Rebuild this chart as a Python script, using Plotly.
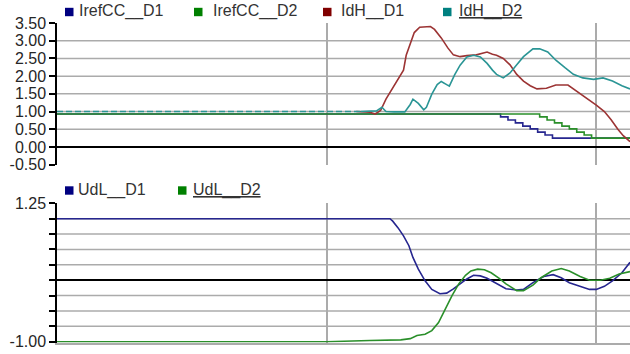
import plotly.graph_objects as go

# ---- series data (time in arbitrary units, values in p.u.) ----
t_iref1 = [0, 3.29, 3.345, 3.40, 3.455, 3.51, 3.565, 3.62, 3.675, 4.25]
v_iref1 = [0.93, 0.85, 0.76, 0.68, 0.59, 0.51, 0.42, 0.34, 0.25, 0.25]

t_iref2 = [0, 3.58, 3.635, 3.69, 3.745, 3.80, 3.855, 3.91, 3.965, 4.25]
v_iref2 = [0.93, 0.85, 0.76, 0.68, 0.59, 0.51, 0.42, 0.34, 0.25, 0.25]

t_idh1 = [2.22, 2.32, 2.36, 2.40, 2.44, 2.49, 2.54, 2.57, 2.59, 2.62, 2.65, 2.69,
          2.77, 2.80, 2.85, 2.90, 2.94, 2.99, 3.04, 3.11, 3.19, 3.23, 3.26, 3.31, 3.36,
          3.41, 3.46, 3.51, 3.56, 3.63, 3.70, 3.79, 3.85, 3.93, 4.00, 4.06, 4.11, 4.16,
          4.20, 4.25]
v_idh1 = [1.0, 0.98, 0.93, 1.03, 1.35, 1.67, 2.0, 2.17, 2.59, 2.9, 3.23, 3.38,
          3.40, 3.32, 3.08, 2.79, 2.6, 2.55, 2.58, 2.6, 2.68, 2.62, 2.59, 2.5, 2.32,
          2.05, 1.86, 1.73, 1.64, 1.66, 1.75, 1.75, 1.59, 1.36, 1.18, 1.0, 0.77, 0.5,
          0.32, 0.15]

t_idh2 = [0, 2.25, 2.37, 2.41, 2.44, 2.50, 2.58, 2.62, 2.64, 2.68, 2.72, 2.74, 2.78,
          2.82, 2.85, 2.89, 2.91, 2.95, 2.99, 3.04, 3.09, 3.14, 3.19, 3.23, 3.26, 3.31,
          3.36, 3.41, 3.46, 3.53, 3.58, 3.64, 3.70, 3.77, 3.83, 3.90, 3.98, 4.05, 4.12,
          4.19, 4.25]
v_idh2 = [1.0, 1.0, 1.02, 1.12, 1.0, 0.99, 0.99, 1.2, 1.35, 1.23, 1.05, 1.12, 1.49,
          1.76, 1.85, 1.76, 1.72, 2.04, 2.31, 2.54, 2.59, 2.54, 2.36, 2.17, 2.05, 1.95,
          2.09, 2.32, 2.55, 2.77, 2.77, 2.68, 2.45, 2.23, 2.05, 1.95, 1.91, 1.95, 1.86,
          1.73, 1.64]

t_udl1 = [0, 2.47, 2.49, 2.53, 2.57, 2.61, 2.64, 2.68, 2.73, 2.78, 2.84, 2.89, 2.94,
          2.99, 3.04, 3.09, 3.14, 3.19, 3.26, 3.33, 3.41, 3.46, 3.53, 3.61, 3.68, 3.74,
          3.80, 3.88, 3.95, 4.00, 4.06, 4.12, 4.19, 4.25]
v_udl1 = [1.0, 1.0, 0.96, 0.85, 0.72, 0.56, 0.37, 0.18, -0.01, -0.15, -0.22, -0.21,
          -0.14, -0.06, 0.02, 0.08, 0.07, 0.03, -0.06, -0.14, -0.16, -0.15, -0.04, 0.06,
          0.09, 0.04, -0.04, -0.10, -0.15, -0.15, -0.10, -0.01, 0.12, 0.29]

t_udl2 = [0, 2.0, 2.32, 2.55, 2.62, 2.67, 2.73, 2.78, 2.83, 2.88, 2.93, 2.98, 3.03,
          3.07, 3.12, 3.17, 3.22, 3.28, 3.33, 3.41, 3.46, 3.53, 3.59, 3.67, 3.74, 3.80,
          3.88, 3.95, 4.03, 4.10, 4.17, 4.25]
v_udl2 = [-1.0, -1.0, -0.98, -0.97, -0.95, -0.9, -0.88, -0.82, -0.69, -0.47, -0.25,
          -0.06, 0.08, 0.15, 0.18, 0.17, 0.12, 0.03, -0.06, -0.17, -0.17, -0.08, 0.04,
          0.15, 0.19, 0.15, 0.06, 0.0, 0.0, 0.03, 0.1, 0.14]

top_names = ["IrefCC__D1", "IrefCC__D2", "IdH__D1", "IdH__D2"]
bottom_names = ["UdL__D1", "UdL__D2"]

top_ticks = [-0.5, 0.0, 0.5, 1.0, 1.5, 2.0, 2.5, 3.0, 3.5]
top_ticklabels = ["-0.50", "0.00", "0.50", "1.00", "1.50", "2.00", "2.50", "3.00", "3.50"]
top_grid = [0.5, 1.0, 1.5, 2.0, 2.5, 3.0]

bottom_ticks = [-1.0, -0.75, -0.5, -0.25, 0.0, 0.25, 0.5, 0.75, 1.0, 1.25]
bottom_ticklabels = ["-1.00", "", "", "", "", "", "", "", "", "1.25"]
bottom_grid = [-0.75, -0.5, -0.25, 0.25, 0.5, 0.75, 1.0]

time_grid = [2, 4]

# ---- styling ----
W, H = 630, 354
LEFT = 57
FONT = "Liberation Sans, Arial, sans-serif"
NAVY, GREEN, MAROON, TEAL = "#000080", "#008000", "#800000", "#008080"
LINE_NAVY, LINE_GREEN, LINE_RED, LINE_TEAL = "#26268f", "#2a8f2a", "#9c3434", "#2a9595"
GRID = "#ababab"
LW = 1.6

# lower panel: small padding below -1.00 so the bottom trace is not clipped
Y2_LO, Y2_HI = -1.015, 1.25
Y2_TOP_PX, Y2_M1_PX = 203.3, 341.7
y2_scale = (Y2_M1_PX - Y2_TOP_PX) / (Y2_HI - (-1.0))
Y2_BOTTOM_PX = Y2_M1_PX + (-1.0 - Y2_LO) * y2_scale


def px(x):
    return (x - LEFT) / (W - LEFT)


def py(y):
    return 1 - y / H


fig = go.Figure()

# upper panel: current references and DC currents
fig.add_trace(go.Scatter(x=t_iref1, y=v_iref1, mode="lines", line=dict(color=LINE_NAVY, width=LW, shape="hv"),
                         xaxis="x", yaxis="y", showlegend=False))
fig.add_trace(go.Scatter(x=t_iref2, y=v_iref2, mode="lines", line=dict(color=LINE_GREEN, width=LW, shape="hv"),
                         xaxis="x", yaxis="y", showlegend=False))
fig.add_trace(go.Scatter(x=t_idh1, y=v_idh1, mode="lines", line=dict(color=LINE_RED, width=LW),
                         xaxis="x", yaxis="y", showlegend=False))
# steady-state ripple segment of IdH__D2 drawn dashed, the transient solid
n_ss = 2
fig.add_trace(go.Scatter(x=t_idh2[:n_ss], y=v_idh2[:n_ss], mode="lines",
                         line=dict(color=LINE_TEAL, width=LW, dash="6px,3px"),
                         xaxis="x", yaxis="y", showlegend=False))
fig.add_trace(go.Scatter(x=t_idh2[n_ss - 1:], y=v_idh2[n_ss - 1:], mode="lines",
                         line=dict(color=LINE_TEAL, width=LW),
                         xaxis="x", yaxis="y", showlegend=False))

# lower panel: DC voltages
fig.add_trace(go.Scatter(x=t_udl1, y=v_udl1, mode="lines", line=dict(color=LINE_NAVY, width=LW),
                         xaxis="x2", yaxis="y2", showlegend=False))
fig.add_trace(go.Scatter(x=t_udl2, y=v_udl2, mode="lines", line=dict(color=LINE_GREEN, width=LW),
                         xaxis="x2", yaxis="y2", showlegend=False))

xaxis_common = dict(range=[0, 4.25], tickmode="array", tickvals=time_grid, showticklabels=False,
                    showgrid=True, gridcolor=GRID, gridwidth=2, zeroline=False, showline=False,
                    ticks="", domain=[0, 1], automargin=False)
yaxis_common = dict(showline=True, linecolor="black", linewidth=1.5, ticks="outside", ticklen=6,
                    tickwidth=1.5, tickcolor="black", showgrid=False, zeroline=True,
                    zerolinecolor="black", zerolinewidth=1.5, automargin=False,
                    tickfont=dict(family=FONT, size=16, color="#262626"), tickmode="array")

fig.update_layout(
    width=W, height=H,
    margin=dict(l=LEFT, r=0, t=0, b=0),
    paper_bgcolor="white", plot_bgcolor="white",
    xaxis={**xaxis_common, "anchor": "y"},
    # bottom edge of the lower panel carries the -1.00 grid line, under the traces
    xaxis2={**xaxis_common, "anchor": "y2", "showline": True, "linecolor": GRID,
            "linewidth": 1.5, "layer": "below traces"},
    yaxis={**yaxis_common, "range": [-0.5, 3.5], "tickvals": top_ticks, "ticktext": top_ticklabels,
           "domain": [py(164.7), py(23)], "anchor": "x"},
    yaxis2={**yaxis_common, "range": [Y2_LO, Y2_HI], "tickvals": bottom_ticks,
            "ticktext": bottom_ticklabels, "domain": [py(Y2_BOTTOM_PX), py(Y2_TOP_PX)], "anchor": "x2"},
    showlegend=False,
)

# horizontal grid lines
shapes = []
for v in top_grid:
    shapes.append(dict(type="line", xref="x domain", yref="y", x0=0, x1=1, y0=v, y1=v,
                       line=dict(color=GRID, width=1.5), layer="below"))
for v in bottom_grid:
    shapes.append(dict(type="line", xref="x2 domain", yref="y2", x0=0, x1=1, y0=v, y1=v,
                       line=dict(color=GRID, width=1.5), layer="below"))

# legend rows: coloured squares with labels
annotations = []
top_items = [(top_names[0], NAVY, 65, 77.7, False),
             (top_names[1], GREEN, 194, 211.7, False),
             (top_names[2], MAROON, 323, 340, False),
             (top_names[3], TEAL, 443, 458, True)]
bottom_items = [(bottom_names[0], NAVY, 65, 76.7, False),
                (bottom_names[1], GREEN, 178, 191.7, True)]

for items, ymid in ((top_items, 12), (bottom_items, 190.5)):
    for name, col, sq_x, tx, underline in items:
        shapes.append(dict(type="rect", xref="paper", yref="paper",
                           x0=px(sq_x), x1=px(sq_x + 8.5), y0=py(ymid + 4.2), y1=py(ymid - 4.2),
                           fillcolor=col, line=dict(width=0)))
        label = f"<u>{name}</u>" if underline else name
        annotations.append(dict(xref="paper", yref="paper", x=px(tx - 1), y=py(ymid - 1),
                                xanchor="left", yanchor="middle", text=label, showarrow=False,
                                font=dict(family=FONT, size=16, color="#333333")))

fig.update_layout(shapes=shapes, annotations=annotations)

fig.write_html("out.html")
